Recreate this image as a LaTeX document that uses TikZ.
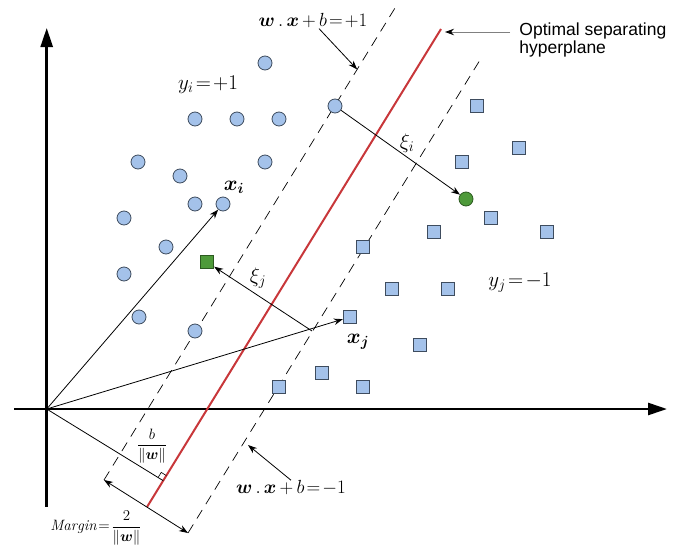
\documentclass[tikz,border=0pt]{standalone}
\usepackage{fix-cm}
\usepackage{amsmath,bm}
\usepackage{fontspec}
\newfontfamily\hpfont{Liberation Sans}
\usetikzlibrary{arrows.meta,calc}
\definecolor{ptblue}{HTML}{A4C2EA}
\definecolor{ptedge}{HTML}{3E4C5E}
\definecolor{slack}{HTML}{4E9A3A}
\definecolor{slackedge}{HTML}{2C5A20}
\definecolor{hpred}{HTML}{C8373A}
\newcommand\mtx[1]{$\thickmuskip=2mu \medmuskip=3mu #1$}
\tikzset{
  >={Stealth[length=9pt,width=6.5pt]},
  pc/.style={circle,draw=ptedge,fill=ptblue,minimum size=14pt,inner sep=0pt},
  nc/.style={rectangle,draw=ptedge,fill=ptblue,minimum size=13.5pt,inner sep=0pt},
  gc/.style={pc,draw=slackedge,fill=slack},
  gs/.style={nc,draw=slackedge,fill=slack},
  ax/.style={line width=2.6pt,-{Triangle[length=19pt,width=12pt]}},
  mg/.style={dash pattern=on 10pt off 7pt,line width=0.7pt},
  hp/.style={draw=hpred,line width=2pt},
  tx/.style={inner sep=0pt,font=\fontsize{19}{21}\selectfont},
  bx/.style={inner sep=0pt,font=\fontsize{21}{23}\selectfont},
  sm/.style={inner sep=0pt,font=\fontsize{15}{17}\selectfont},
  every picture/.style={line width=0.8pt},
}
\begin{document}
\begin{tikzpicture}[x=1pt,y=-1pt]
\useasboundingbox (0,0) rectangle (683,552);
\coordinate (O) at (46.7,409); \coordinate (yBot) at (46.7,506.7); \coordinate (yTop) at (46.7,28);
\coordinate (xL) at (14,409); \coordinate (xR) at (667,409);
\coordinate (hpTop) at (441,29); \coordinate (hpBot) at (147,507);
\coordinate (upTop) at (395,8); \coordinate (upBot) at (104,480);
\coordinate (loTop) at (480,60); \coordinate (loBot) at (188,533);
\coordinate (foot) at ($(hpBot)!(O)!(hpTop)$); \coordinate (sj) at (312,331);
\coordinate (upMark) at ($(upTop)!0.13!(upBot)$); \coordinate (loMark) at (248,445);
\coordinate (hpArr) at (510,32); \coordinate (hpTip) at (445,32);
\draw[ax] (yBot)--(yTop); \draw[ax] (xL)--(xR);
\draw[mg] (upBot)--(upTop); \draw[mg] (loBot)--(loTop);
\draw[hp] (hpBot)--(hpTop);
\draw (O)--(foot);
\coordinate (ra1) at ($(foot)!6pt!(O)$); \coordinate (ra2) at ($(foot)!6pt!(hpTop)$);
\draw[line width=0.6pt] (ra1)--($(ra1)+(ra2)-(foot)$)--(ra2);
\draw[<->] (upBot)--(loBot);
\node[pc] (p1) at (265,63){}; \node[pc] (p2) at (335,106){}; \node[pc] (p3) at (195,119){};
\node[pc] (p4) at (237,119){}; \node[pc] (p5) at (279,119){}; \node[pc] (p6) at (138,162){};
\node[pc] (p7) at (265,162){}; \node[pc] (p8) at (180,176){}; \node[pc] (p9) at (195,204){};
\node[pc] (xi) at (223,204){}; \node[pc] (p11) at (124,218){}; \node[pc] (p12) at (166,247){};
\node[pc] (p13) at (124,274){}; \node[pc] (p14) at (139,317){}; \node[pc] (p15) at (195,331){};
\node[nc] (n1) at (477,106){}; \node[nc] (n2) at (519,148){}; \node[nc] (n3) at (462,162){};
\node[nc] (n4) at (491,218){}; \node[nc] (n5) at (434,232){}; \node[nc] (n6) at (547,232){};
\node[nc] (n7) at (363,247){}; \node[nc] (n8) at (392,289){}; \node[nc] (n9) at (448,289){};
\node[nc] (xj) at (350,317){}; \node[nc] (n11) at (420,345){}; \node[nc] (n12) at (363,387){};
\node[nc] (n13) at (322,373){}; \node[nc] (n14) at (279,387){};
\node[gc] (gi) at (466,199){}; \node[gs] (gj) at (207,262){};
\draw[->] (O)--(xi); \draw[->] (O)--(xj);
\draw[->] (p2)--(gi); \draw[->] (sj)--(gj);
\node[bx] (yiLbl) at (208,85){\mtx{y_i=+1}}; \node[bx] (yjLbl) at (520,283){\mtx{y_j=-1}};
\node[bx] (xiLbl) at (234,187){$\bm{x_i}$}; \node[bx] (xjLbl) at (358,342){$\bm{x_j}$};
\node[bx] (siLbl) at (407,143){$\xi_i$};
\node[bx] (sjLbl) at (258,278){$\xi_j$};
\node[tx] (plusLbl) at (313,21){\mtx{\bm{w}\,.\,\bm{x}+b=+1}};
\node[tx] (minusLbl) at (291,488){\mtx{\bm{w}\,.\,\bm{x}+b=-1}};
\node[sm] (bLbl) at (152,446){$\dfrac{b}{\|\bm{w}\|}$};
\node[sm] (mLbl) at (96,528){\mtx{\mathit{Margin}=\dfrac{2}{\|\bm{w}\|}}};
\node[anchor=north west,inner sep=0pt,align=left,font=\hpfont\fontsize{17.5}{18.5}\selectfont] (hpLbl) at (519,22){Optimal separating\\hyperplane};
\draw[->] ([xshift=6pt]plusLbl.south)--(upMark);
\draw[->] (minusLbl.north)--(loMark);
\draw[gray,line width=0.9pt,-{Stealth[length=9pt,width=6.5pt,color=black]}] (hpArr)--(hpTip);
\end{tikzpicture}
\end{document}
